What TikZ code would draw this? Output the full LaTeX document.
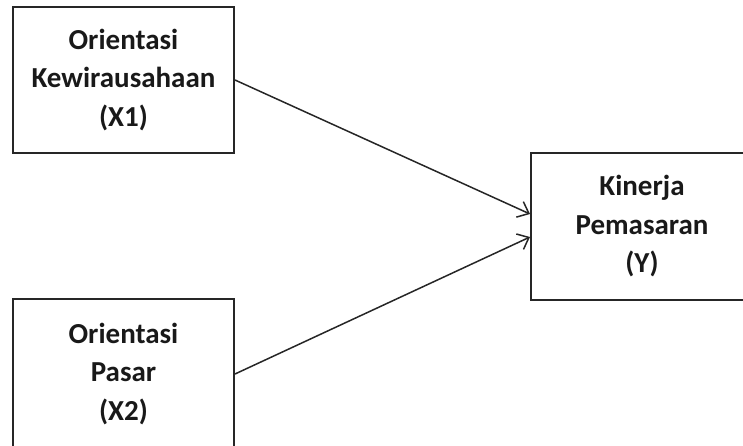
\documentclass[tikz,border=0pt]{standalone}
\usepackage{fontspec}
\setmainfont{Carlito}
\usetikzlibrary{arrows.meta}

\begin{document}
\begin{tikzpicture}[x=1pt,y=-1pt,
	varbox/.style={draw=black!85,line width=2pt,align=center,inner sep=0pt,
		font=\fontsize{29}{38.5}\selectfont\bfseries,text=black!90},
	link/.style={draw=black!85,line width=1.5pt,-{Straight Barb[length=10pt,width=17pt,line width=1.5pt]}}]
	\clip (0,0) rectangle (743,446);
	\useasboundingbox (0,0) rectangle (743,446);

	\node [varbox,minimum width=221pt,minimum height=146pt] (orkew) at (123.5,80) {Orientasi\\Kewirausahaan\\(X1)};
	\node [varbox,minimum width=221pt,minimum height=150pt] (orpas) at (123.5,374) {Orientasi\\Pasar\\(X2)};
	\node [varbox,minimum width=222pt,minimum height=147pt] (kinpem) at (642,226.5) {Kinerja\\Pemasaran\\(Y)};

	\draw [link] (orkew.east) -- ([yshift=12.5pt]kinpem.west);
	\draw [link] (orpas.east) -- ([yshift=-10.5pt]kinpem.west);
\end{tikzpicture}
\end{document}
